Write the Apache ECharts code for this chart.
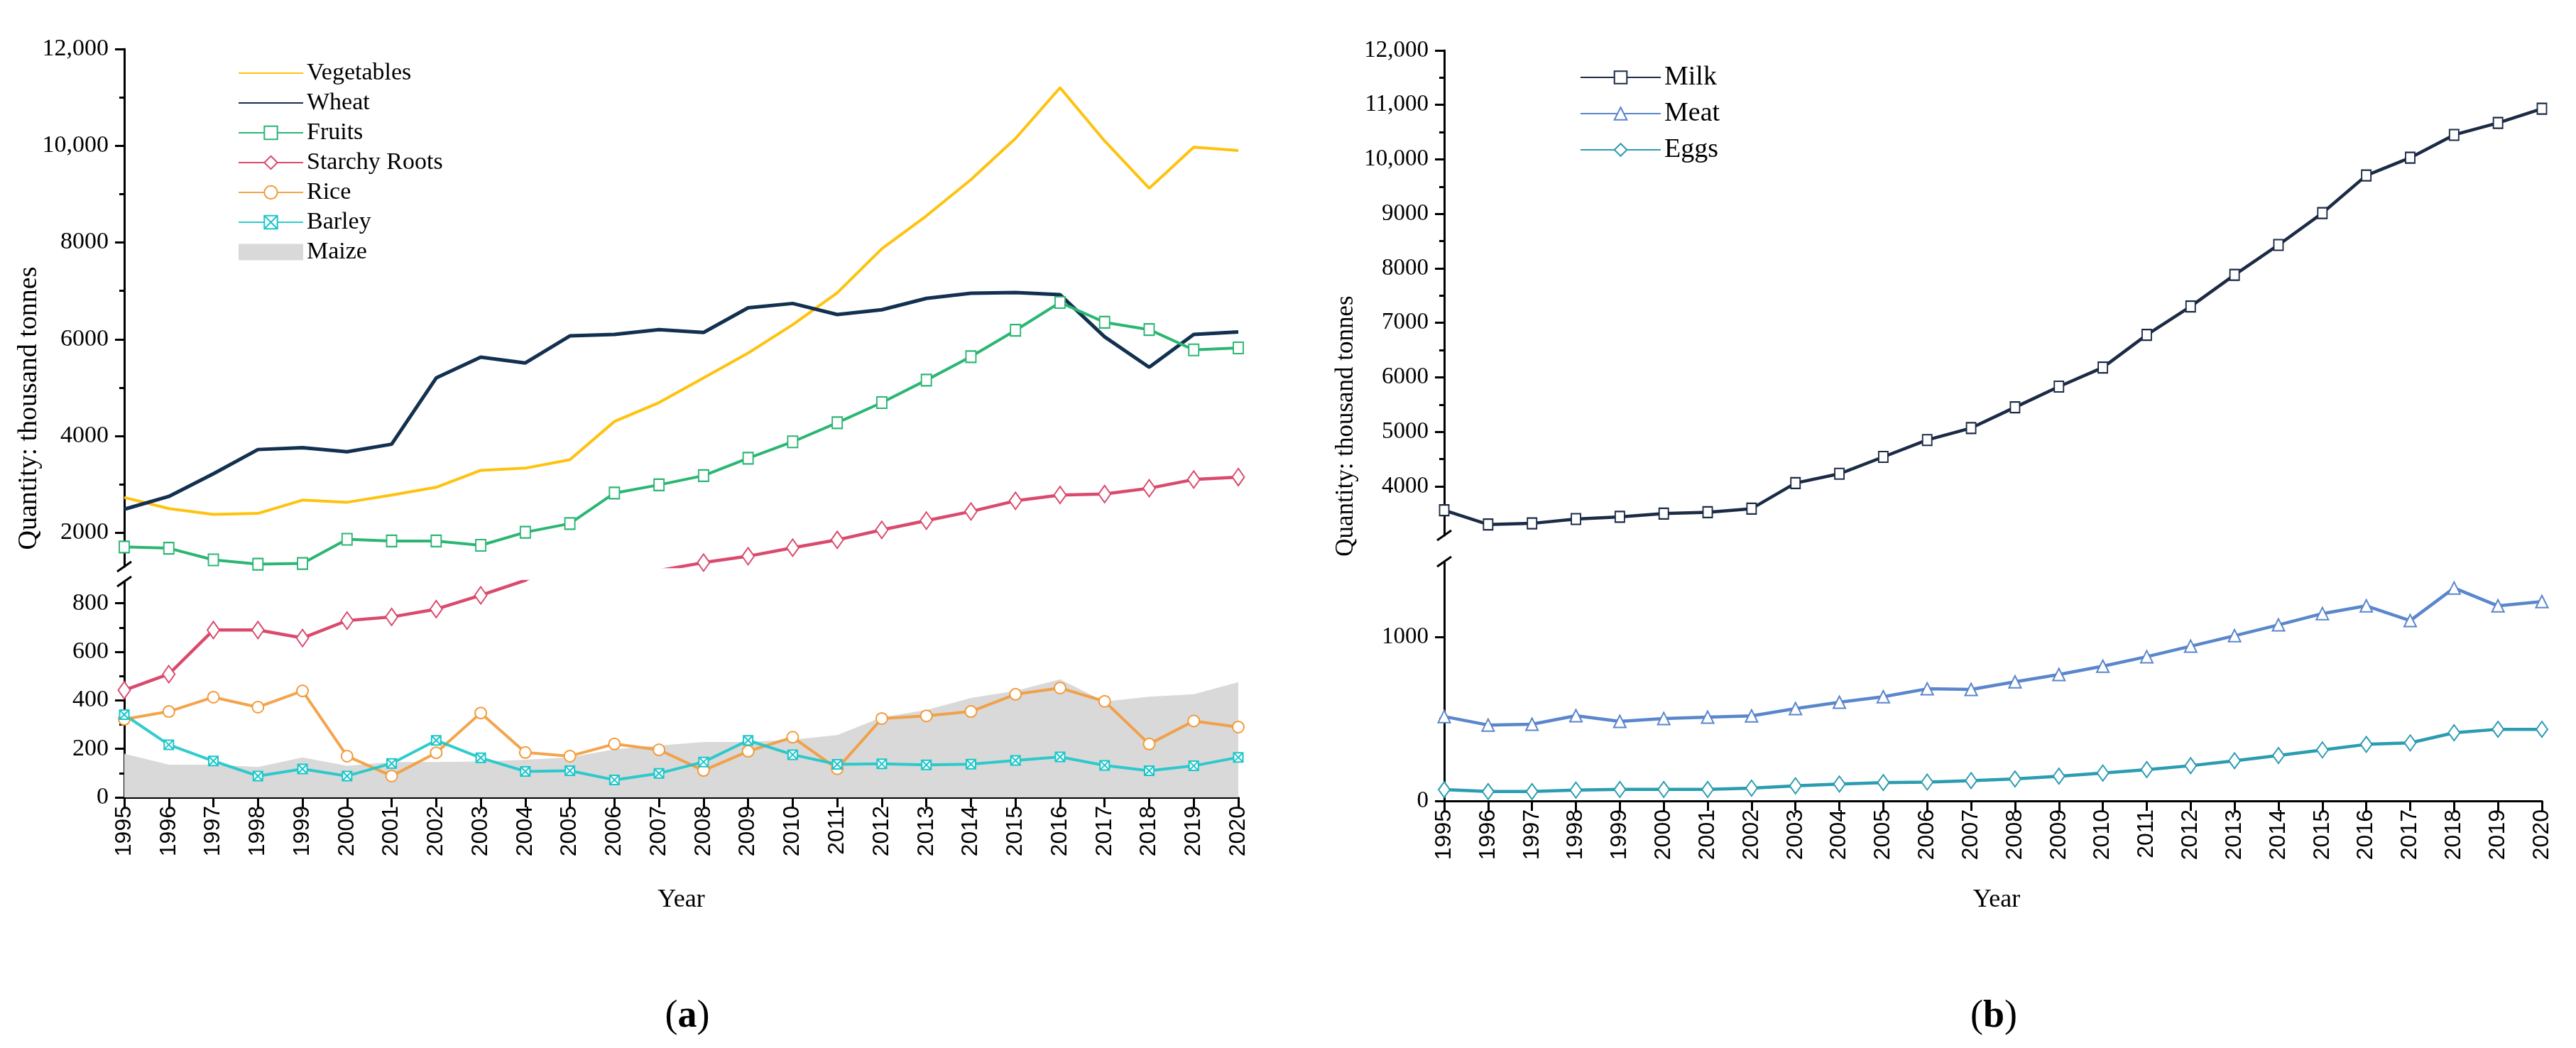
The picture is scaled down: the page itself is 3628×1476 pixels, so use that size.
<!DOCTYPE html>
<html><head><meta charset="utf-8">
<script src="https://cdn.jsdelivr.net/npm/echarts@6/dist/echarts.min.js"></script>
<style>html,body{margin:0;padding:0;background:#fff}#c{width:3628px;height:1476px}</style>
</head><body><div id="c"></div>
<script>
// ---------- data ----------
const years = ['1995','1996','1997','1998','1999','2000','2001','2002','2003','2004','2005','2006','2007','2008','2009','2010','2011','2012','2013','2014','2015','2016','2017','2018','2019','2020'];
const vegetables = [2730,2500,2380,2400,2675,2630,2780,2940,3290,3335,3510,4300,4690,5200,5715,6300,6960,7870,8550,9300,10150,11200,10100,9120,9970,9900];
const wheat = [2485,2750,3220,3720,3760,3675,3830,5200,5630,5510,6070,6100,6200,6140,6650,6740,6510,6610,6845,6950,6965,6920,6050,5420,6100,6150];
const fruits = [1706,1680,1440,1350,1365,1865,1830,1830,1740,2010,2190,2820,2990,3180,3540,3880,4275,4690,5155,5640,6185,6760,6350,6200,5780,5820];
const starchyRoots = [442,508,690,690,657,729,744,776,833,895,990,1100,1220,1383,1515,1690,1853,2060,2250,2440,2660,2780,2800,2920,3100,3150];
const rice = [322,354,413,372,439,170,88,184,348,185,170,220,196,111,190,248,118,325,336,354,425,451,396,220,315,290];
const barley = [341,217,150,88,117,88,140,235,163,107,110,72,99,146,235,176,136,138,134,137,152,167,132,110,130,165];
const maize = [180,135,135,125,165,130,146,146,148,155,165,198,214,228,228,238,257,330,360,410,439,487,395,415,425,475];
const milk = [3560,3300,3320,3400,3440,3500,3525,3590,4060,4230,4540,4850,5070,5450,5830,6180,6780,7300,7880,8430,9015,9705,10030,10450,10670,10930];
const meat = [515,463,468,520,485,503,511,519,563,602,636,684,680,727,771,822,880,944,1008,1074,1143,1190,1100,1299,1190,1216];
const eggs = [69,57,57,66,70,70,70,78,92,103,112,115,124,134,151,170,191,215,245,277,311,345,354,416,437,437];

// tick values
const aUpMajor = [2000,4000,6000,8000,10000,12000];
const aUpMinor = [3000,5000,7000,9000,11000];
const aLoMajor = [0,200,400,600,800];
const aLoMinor = [100,300,500,700];
const bUpMajor = [4000,5000,6000,7000,8000,9000,10000,11000,12000];
const bUpMinor = [3500,4500,5500,6500,7500,8500,9500,10500,11500];
const bLoMajor = [0,1000];
const bLoMinor = [500];

// ---------- layout ----------
const SERIF = '"Liberation Serif","Times New Roman",serif';
const SANS = '"Liberation Sans",Arial,sans-serif';
const L = {
  a: {left:175, width:1569, upTop:69, upH:729, upMin:1300, upMax:12000, loTop:819, loH:304, loMax:890},
  b: {left:2034, width:1546, upTop:71, upH:683, upMin:3100, upMax:12000, loTop:791, loH:337, loMax:1460}
};
const grids = [
  {left:L.a.left, top:L.a.upTop, width:L.a.width, height:L.a.upH},
  {left:L.a.left, top:L.a.loTop, width:L.a.width, height:L.a.loH},
  {left:L.b.left, top:L.b.upTop, width:L.b.width, height:L.b.upH},
  {left:L.b.left, top:L.b.loTop, width:L.b.width, height:L.b.loH}
].map(g => Object.assign({outerBoundsMode:'none', containLabel:false}, g));

function fmt(v){ return v >= 10000 ? v.toLocaleString('en-US') : String(v); }

function xAx(gi, show){
  return {type:'category', gridIndex:gi, data:years, boundaryGap:false,
    axisLine:{show:show, onZero:false, lineStyle:{color:'#000', width:3}},
    axisTick:{show:show, alignWithLabel:true, length:14, lineStyle:{color:'#000', width:3}},
    axisLabel:{show:show, rotate:90, interval:0, margin:12, fontFamily:SANS, fontSize:32, color:'#000'},
    splitLine:{show:false}};
}
function yAx(gi, min, max, majors, minors, fs){
  return [
    {type:'value', gridIndex:gi, min:min, max:max, position:'left',
      axisLine:{show:true, onZero:false, lineStyle:{color:'#000', width:3}},
      axisTick:{show:true, customValues:majors, length:13, lineStyle:{color:'#000', width:3}},
      axisLabel:{show:true, customValues:majors, formatter:fmt, margin:22, fontFamily:SERIF, fontSize:fs, color:'#000'},
      splitLine:{show:false}},
    {type:'value', gridIndex:gi, min:min, max:max, position:'left', offset:0,
      axisLine:{show:false},
      axisTick:{show:true, customValues:minors, length:7, lineStyle:{color:'#000', width:3}},
      axisLabel:{show:false}, splitLine:{show:false}}
  ];
}
const xAxes = [xAx(0,false), xAx(1,true), xAx(2,false), xAx(3,true)];
const yAxes = [].concat(
  yAx(0, L.a.upMin, L.a.upMax, aUpMajor, aUpMinor, 34),
  yAx(1, 0, L.a.loMax, aLoMajor, aLoMinor, 34),
  yAx(2, L.b.upMin, L.b.upMax, bUpMajor, bUpMinor, 33),
  yAx(3, 0, L.b.loMax, bLoMajor, bLoMinor, 33)
);

const barleySym = 'path://M0,0L10,0L10,10L0,10Z M0,0L10,10 M10,0L0,10';
function line(name, data, gi, color, o){
  o = o || {};
  const s = {type:'line', name:name, data:data, xAxisIndex:gi, yAxisIndex:gi*2,
    clip:true, animation:false, silent:true, z:o.z || 3,
    symbol:o.symbol || 'none', symbolSize:o.size || 14, showSymbol:!!o.symbol,
    lineStyle:{color:color, width:o.width || 4, opacity:o.opacity == null ? 1 : o.opacity},
    itemStyle:{color:'#fff', borderColor:color, borderWidth:2},
    emphasis:{disabled:true}};
  if (o.area) { s.areaStyle = {color:o.area, opacity:1}; s.lineStyle.width = 0; s.itemStyle = {color:o.area}; }
  return s;
}
const C = {veg:'#FFC20E', wheat:'#12304F', fruits:'#2BB673', starchy:'#DA4A6C', rice:'#F39A38', barley:'#1CC6C9', maize:'#D9D9D9',
           milk:'#1B2B45', meat:'#5A86CB', eggs:'#2B9CB1'};
const series = [
  line('Maize', maize, 1, C.maize, {area:C.maize, z:1}),
  line('Vegetables', vegetables, 0, C.veg, {width:4}),
  line('Wheat', wheat, 0, C.wheat, {width:5}),
  line('Fruits', fruits, 0, C.fruits, {symbol:'rect', size:[14,16], width:4}),
  line('Starchy Roots', starchyRoots, 0, C.starchy, {symbol:'diamond', size:[17,24], width:4.5}),
  line('Starchy Roots', starchyRoots, 1, C.starchy, {symbol:'diamond', size:[17,24], width:4.5}),
  line('Rice', rice, 1, C.rice, {symbol:'circle', size:16, width:4, opacity:0.9}),
  line('Barley', barley, 1, C.barley, {symbol:barleySym, size:13, width:4, opacity:0.9}),
  line('Milk', milk, 2, C.milk, {symbol:'rect', size:[13,15], width:4.5}),
  line('Meat', meat, 3, C.meat, {symbol:'triangle', size:[17,17], width:4.5}),
  line('Eggs', eggs, 3, C.eggs, {symbol:'diamond', size:[16,22], width:4.5})
];

// break marks computed from layout
function breaks(p){
  const ax = p.left, yb = p.upTop + p.upH, yt = p.loTop;
  const st = {stroke:'#000', lineWidth:3};
  return [
    {type:'line', shape:{x1:ax-10, y1:yb+7, x2:ax+10, y2:yb-7}, style:st, z:100},
    {type:'line', shape:{x1:ax-10, y1:yt+7, x2:ax+10, y2:yt-7}, style:st, z:100}
  ];
}
function txt(x, y, text, font, rot){
  return {type:'text', x:x, y:y, rotation:rot || 0, z:100,
    style:{text:text, font:font, fill:'#000', align:'center', verticalAlign:'middle'}};
}
const graphic = [].concat(
  breaks(L.a), breaks(L.b),
  [
    txt(41, 575, 'Quantity: thousand tonnes', '38px ' + SERIF, Math.PI/2),
    txt(1896, 600, 'Quantity: thousand tonnes', '35px ' + SERIF, Math.PI/2),
    txt(L.a.left + L.a.width/2, 1268, 'Year', '36px ' + SERIF),
    txt(L.b.left + L.b.width/2 + 5, 1268, 'Year', '36px ' + SERIF),
    {type:'text', x:968, y:1432, z:100, style:{text:'{p|(}{b|a}{p|)}', align:'center', verticalAlign:'middle',
      rich:{p:{font:'54px ' + SERIF, fill:'#000'}, b:{font:'bold 54px ' + SERIF, fill:'#000'}}}},
    {type:'text', x:2808, y:1432, z:100, style:{text:'{p|(}{b|b}{p|)}', align:'center', verticalAlign:'middle',
      rich:{p:{font:'54px ' + SERIF, fill:'#000'}, b:{font:'bold 54px ' + SERIF, fill:'#000'}}}}
  ]
);

const legends = [
  {orient:'vertical', left:335, top:86, padding:0, itemWidth:91, itemHeight:23, itemGap:8, selectedMode:false,
   textStyle:{fontFamily:SERIF, fontSize:34, lineHeight:34, color:'#000'},
   data:[
     {name:'Vegetables', itemStyle:{opacity:0}},
     {name:'Wheat', itemStyle:{opacity:0}},
     'Fruits', 'Starchy Roots', 'Rice', 'Barley',
     {name:'Maize', icon:'rect', itemStyle:{color:C.maize, borderWidth:0, borderColor:C.maize}}
   ]},
  {orient:'vertical', left:2225, top:90, padding:0, itemWidth:113, itemHeight:22, itemGap:13, selectedMode:false,
   textStyle:{fontFamily:SERIF, fontSize:38, lineHeight:38, color:'#000'},
   data:['Milk','Meat','Eggs']}
];

const chart = echarts.init(document.getElementById('c'), null, {renderer:'canvas'});
chart.setOption({
  backgroundColor:'#fff', animation:false,
  grid:grids, xAxis:xAxes, yAxis:yAxes, series:series, legend:legends, graphic:graphic
});
</script></body></html>
